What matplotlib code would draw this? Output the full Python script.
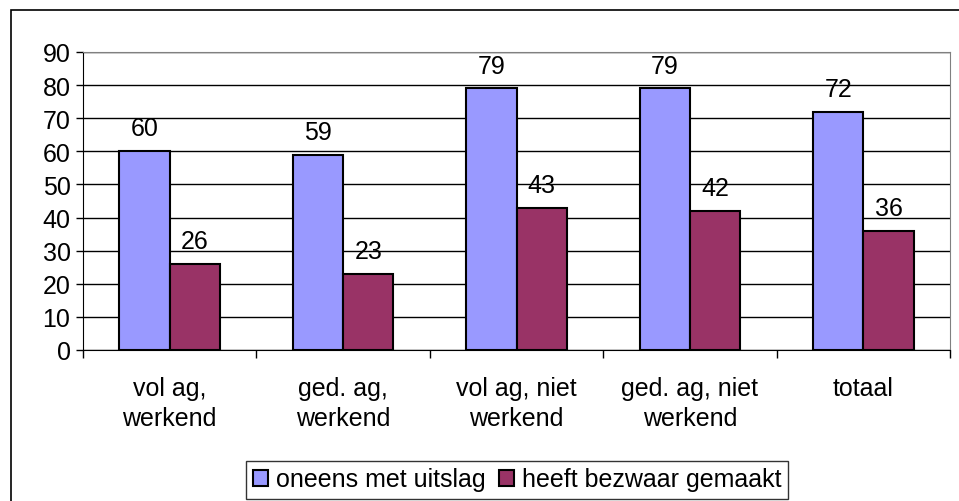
import matplotlib
matplotlib.use("Agg")
import matplotlib.pyplot as plt
from matplotlib.patches import Rectangle
import numpy as np

plt.rcParams['font.family'] = ['Liberation Sans', 'DejaVu Sans']

categories = ["vol ag,\nwerkend", "ged. ag,\nwerkend", "vol ag, niet\nwerkend",
              "ged. ag, niet\nwerkend", "totaal"]
oneens = [60, 59, 79, 79, 72]
bezwaar = [26, 23, 43, 42, 36]
series_names = ["oneens met uitslag", "heeft bezwaar gemaakt"]
yticks = [0, 10, 20, 30, 40, 50, 60, 70, 80, 90]

W, H = 959, 502
fig = plt.figure(figsize=(W / 100, H / 100), dpi=100)
fig.patch.set_facecolor('white')

# outer border (extends past right/bottom edges as in the reference)
fig.patches.append(Rectangle((11 / W, -10 / H), (975 - 11) / W, (491 + 10) / H,
                             transform=fig.transFigure, fill=False,
                             edgecolor='black', linewidth=1.2))

left, right, top, bottom = 83, 950, 53, 351
ax = fig.add_axes([left / W, 1 - bottom / H, (right - left) / W, (bottom - top) / H])

x = np.arange(len(categories))
bw = 0.29
fs = 18
b1 = ax.bar(x - bw / 2, oneens, bw, color='#9999FF', edgecolor='black', linewidth=1.5,
            label=series_names[0], zorder=3)
b2 = ax.bar(x + bw / 2, bezwaar, bw, color='#993366', edgecolor='black', linewidth=1.5,
            label=series_names[1], zorder=3)

for bars, vals in ((b1, oneens), (b2, bezwaar)):
    for r, v in zip(bars, vals):
        ax.annotate(f"{v}", (r.get_x() + r.get_width() / 2, v), xytext=(0, 16.5),
                    textcoords='offset points', ha='center', va='center', fontsize=fs)

ax.set_xlim(-0.5, len(categories) - 0.5)
ax.set_ylim(0, 90)
ax.set_yticks(yticks)
ax.set_yticklabels([str(t) for t in yticks], fontsize=fs)
ax.yaxis.grid(True, color='black', linewidth=1)
ax.set_axisbelow(True)

ax.set_xticks(x)
ax.set_xticklabels(categories, fontsize=fs, linespacing=1.3)
ax.tick_params(axis='x', length=0, pad=19)
ax.set_xticks(np.arange(len(categories) + 1) - 0.5, minor=True)
ax.tick_params(axis='x', which='minor', length=6, width=1, direction='out')
ax.tick_params(axis='y', length=5, width=1, direction='out', pad=4)

for s in ['top', 'right']:
    ax.spines[s].set_color('#808080')
for s in ['left', 'bottom']:
    ax.spines[s].set_color('black')

leg = fig.legend(loc='center', bbox_to_anchor=(517 / W, 1 - 480.5 / H), ncol=2,
                 fontsize=fs, frameon=True, fancybox=False, edgecolor='black',
                 handlelength=0.62, handleheight=0.62, handletextpad=0.3,
                 columnspacing=0.55, borderpad=0.28, borderaxespad=0)
leg.get_frame().set_linewidth(1)

fig.savefig("out.png", dpi=100)
